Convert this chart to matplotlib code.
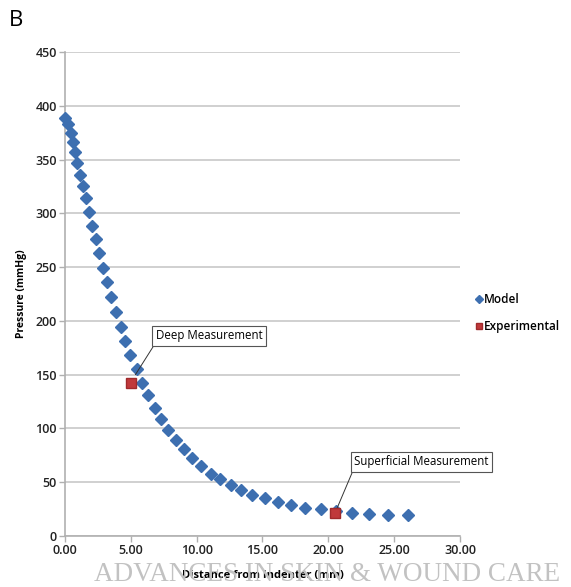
import matplotlib
matplotlib.use("Agg")
import matplotlib.pyplot as plt
from matplotlib.ticker import FormatStrFormatter

# model curve
model_x = [0.0, 0.25, 0.43, 0.58, 0.73, 0.94, 1.14, 1.37, 1.59, 1.82, 2.05, 2.33, 2.6, 2.91, 3.19,
           3.47, 3.87, 4.23, 4.58, 4.97, 5.48, 5.85, 6.3, 6.83, 7.26, 7.85, 8.43, 9.02, 9.68, 10.35,
           11.06, 11.77, 12.59, 13.4, 14.24, 15.2, 16.17, 17.2, 18.22, 19.43, 20.6, 21.8, 23.1, 24.5, 26.06]
model_y = [389, 383, 375, 366, 357, 347, 336, 325, 314, 301, 288, 276, 263, 249, 236,
           222, 208, 194, 181, 168, 155, 142.5, 131.5, 119, 108.5, 98.5, 89, 80.6, 72.5, 65.2,
           58, 52.8, 47.7, 42.8, 38.5, 35, 32, 29, 26.3, 24.8, 23, 21.7, 20.5, 19.8, 19.2]

exp_x = [5.0, 20.5]
exp_y = [142.5, 21.0]
exp_labels = ["Deep Measurement", "Superficial Measurement"]

plt.rcParams['font.family'] = ['Open Sans', 'DejaVu Sans']

fig = plt.figure(figsize=(5.71, 5.87), dpi=100)
ax = fig.add_axes([0.1138, 0.0869, 0.6918, 0.8245])

# watermark first so the axis label sits over it
fig.text(0.572, 0.021, 'ADVANCES IN SKIN & WOUND CARE', fontsize=19.5, color='#c2c2c2',
         family='Liberation Serif', ha='center', va='center', zorder=0)

ax.plot(model_x, model_y, linestyle='none', marker='D', markersize=6.5,
        color='#3d6fb0', label='Model', zorder=3, clip_on=False)
ax.plot(exp_x, exp_y, linestyle='none', marker='s', markersize=7.5,
        color='#c0393b', markeredgecolor='#a02a2c', label='Experimental', zorder=4)

# data labels with leader lines
box = dict(boxstyle='square,pad=0.3', fc='white', ec='#555555', lw=0.8)
lead = dict(arrowstyle='-', color='#333333', lw=0.7, shrinkA=0, shrinkB=0, relpos=(0, 0))
ax.annotate(exp_labels[0], xy=(5.35, 150), xytext=(6.9, 180), fontsize=8.3,
            bbox=box, ha='left', va='bottom', arrowprops=lead)
ax.annotate(exp_labels[1], xy=(20.6, 24), xytext=(21.95, 63), fontsize=8.3,
            bbox=box, ha='left', va='bottom', arrowprops=lead)

ax.set_xlim(0, 30)
ax.set_ylim(0, 450)
ax.set_xticks(range(0, 31, 5))
ax.set_yticks(range(0, 451, 50))
ax.xaxis.set_major_formatter(FormatStrFormatter('%.2f'))
ax.grid(axis='y', color='#c8c8c8', lw=1.2)
ax.set_axisbelow(True)
for s in ['top', 'right']:
    ax.spines[s].set_visible(False)
for s in ['left', 'bottom']:
    ax.spines[s].set_color('#b0b0b0')
    ax.spines[s].set_linewidth(1.2)
ax.tick_params(axis='both', labelsize=9, colors='#222222', length=4, width=1, pad=2)
ax.tick_params(axis='both', color='#b0b0b0')
for t in ax.get_xticklabels() + ax.get_yticklabels():
    t.set_fontweight('semibold')

ax.set_ylabel('Pressure (mmHg)', fontsize=7.5, fontweight='bold', labelpad=6)
ax.set_xlabel('Distance from Indenter (mm)', fontsize=8, fontweight='bold', labelpad=9)

ax.legend(loc='center left', bbox_to_anchor=(1.015, 0.46), frameon=False,
          handlelength=0.5, handletextpad=0.1, labelspacing=1.2, markerscale=0.6,
          prop={'weight': 'semibold', 'size': 8.5})

fig.text(0.015, 0.965, 'B', fontsize=16, ha='left', va='center')

fig.savefig('out.png', dpi=100)
